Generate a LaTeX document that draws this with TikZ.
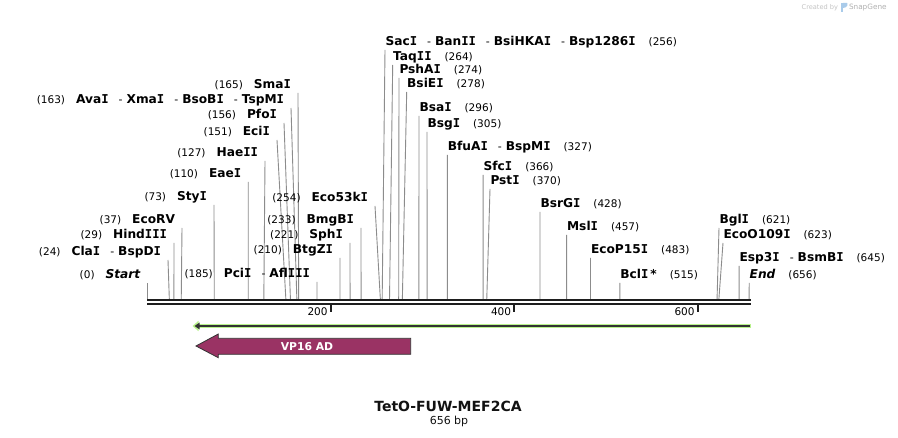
\documentclass[tikz,border=0pt]{standalone}
\usepackage{fontspec}
\setmainfont{DejaVu Sans}
\newfontfamily\monofam{DejaVu Sans Mono}
\usetikzlibrary{arrows.meta}
\definecolor{sitegray}{HTML}{8C8C8C}
\definecolor{seqblack}{HTML}{1E1E1E}
\definecolor{halo}{HTML}{B9F28C}
\definecolor{featdark}{HTML}{333333}
\definecolor{vpfill}{HTML}{9A3364}
\definecolor{credgray}{HTML}{C4C4C4}
\definecolor{logoblue}{HTML}{A9CBEA}
\newcommand\I{{\monofam I}}
\newcommand\nm[1]{{\fontsize{12.2}{14}\selectfont\bfseries #1}}
\newcommand\nb[1]{{\fontsize{10.5}{12}\selectfont #1}}
\newcommand\dsh{\hspace{10pt}{\mdseries\fontsize{11}{12}\selectfont -}\hspace{4pt}}
\newcommand\gapL{\hspace{11pt}}
\newcommand\gapR{\hspace{13pt}}
\tikzset{
  site/.style={draw=sitegray, line width=0.9pt},
  lbl/.style={inner sep=0pt, outer sep=0pt, text=black},
  seqline/.style={draw=seqblack, line width=2.2pt},
  tickmark/.style={draw=seqblack, line width=1.8pt},
  ticklbl/.style={inner sep=0pt, font=\fontsize{10.5}{12}\selectfont, text=black},
}
\begin{document}
\begin{tikzpicture}[x=1pt,y=-1pt]
\useasboundingbox[fill=white] (0,0) rectangle (898,438);

% credit
\node[lbl, anchor=east, text=credgray, font=\fontsize{6.6}{8}\selectfont] (cred) at (838,7.5) {Created by};
\fill[logoblue] (840.5,3) rectangle (843,12);
\fill[logoblue] (843,3) -- (847,3) .. controls (848,3) and (848,8) .. (843,8) -- cycle;
\node[lbl, anchor=west, text=credgray!90!black, font=\fontsize{7.3}{8}\selectfont] (sg) at (849,7.5) {SnapGene};

% left-side sites
\foreach \i/\bp/\tx/\ty/\txt in {
  st/0/147.3/283/{\nb{(0)}\gapL\nm{\itshape Start}},
  cla/24/168/260/{\nb{(24)}\gapL\nm{Cla\I\dsh BspD\I}},
  hin/29/174/243/{\nb{(29)}\gapL\nm{Hind\I\I\I}},
  ecv/37/182/228/{\nb{(37)}\gapL\nm{EcoRV}},
  sty/73/214/205/{\nb{(73)}\gapL\nm{Sty\I}},
  eae/110/248.2/182/{\nb{(110)}\gapL\nm{Eae\I}},
  hae/127/265/161/{\nb{(127)}\gapL\nm{Hae\I\I}},
  eci/151/277/140/{\nb{(151)}\gapL\nm{Eci\I}},
  pfo/156/284/123/{\nb{(156)}\gapL\nm{Pfo\I}},
  ava/163/291/108/{\nb{(163)}\gapL\nm{Ava\I\dsh Xma\I\dsh BsoB\I\dsh TspM\I}},
  sma/165/298/93/{\nb{(165)}\gapL\nm{Sma\I}},
  pci/185/317/282/{\nb{(185)}\gapL\nm{Pci\I\dsh Afl\I\I\I}},
  btg/210/340/258/{\nb{(210)}\gapL\nm{BtgZ\I}},
  sph/221/350/243/{\nb{(221)}\gapL\nm{Sph\I}},
  bmg/233/361/228/{\nb{(233)}\gapL\nm{BmgB\I}},
  ecs/254/375/206/{\nb{(254)}\gapL\nm{Eco53k\I}}}
{
  \coordinate (b\i) at ({147.3+0.9175*\bp},299);
  \coordinate (t\i) at (\tx,\ty);
  \draw[site] (b\i) -- (t\i);
  \node[lbl, anchor=base east] (l\i) at ([xshift=-7pt,yshift=4pt]t\i) {\txt};
}

% right-side sites
\foreach \i/\bp/\tx/\ty/\txt in {
  sac/256/385/50/{\nm{Sac\I\dsh Ban\I\I\dsh BsiHKA\I\dsh Bsp1286\I}\gapR\nb{(256)}},
  taq/264/392.7/65/{\nm{Taq\I\I}\gapR\nb{(264)}},
  psh/274/399/78/{\nm{PshA\I}\gapR\nb{(274)}},
  bsi/278/406.7/92/{\nm{BsiE\I}\gapR\nb{(278)}},
  bsa/296/419/116/{\nm{Bsa\I}\gapR\nb{(296)}},
  bsg/305/427/132/{\nm{Bsg\I}\gapR\nb{(305)}},
  bfu/327/447.3/155/{\nm{BfuA\I\dsh BspM\I}\gapR\nb{(327)}},
  sfc/366/483.1/175/{\nm{Sfc\I}\gapR\nb{(366)}},
  pst/370/490/189/{\nm{Pst\I}\gapR\nb{(370)}},
  bsr/428/540/212/{\nm{BsrG\I}\gapR\nb{(428)}},
  msl/457/566.6/235/{\nm{Msl\I}\gapR\nb{(457)}},
  ecp/483/590.5/258/{\nm{EcoP15\I}\gapR\nb{(483)}},
  bcl/515/619.8/283/{\nm{Bcl\I\,*}\gapR\nb{(515)}},
  bgl/621/719/228/{\nm{Bgl\I}\gapR\nb{(621)}},
  eco/623/723/243/{\nm{EcoO109\I}\gapR\nb{(623)}},
  esp/645/739.1/266/{\nm{Esp3\I\dsh BsmB\I}\gapR\nb{(645)}},
  end/656/749.2/283/{\nm{\itshape End}\gapR\nb{(656)}}}
{
  \coordinate (b\i) at ({147.3+0.9175*\bp},299);
  \coordinate (t\i) at (\tx,\ty);
  \draw[site] (b\i) -- (t\i);
  \node[lbl, anchor=base west] (l\i) at ([xshift=0.5pt,yshift=4pt]t\i) {\txt};
}

% sequence
\coordinate (s1L) at (147,300); \coordinate (s1R) at (751,300);
\coordinate (s2L) at (147,304); \coordinate (s2R) at (751,304);
\draw[seqline] (s1L) -- (s1R);
\draw[seqline] (s2L) -- (s2R);

% ticks
\foreach \k/\v in {a/200,b/400,c/600}{
  \coordinate (tk\k) at ({147.3+0.9175*\v},305);
  \coordinate (tb\k) at ({147.3+0.9175*\v},312);
  \draw[tickmark] (tk\k) -- (tb\k);
  \node[ticklbl, anchor=base east] (tl\k) at ([xshift=-3pt,yshift=-3.5pt]tb\k) {\v};
}

% feature line (green)
\coordinate (gR) at (751,326);
\coordinate (gL) at (192.5,326);
\coordinate (gL2) at (194.5,326);
\draw[draw=halo, line width=4.6pt, -{Triangle[length=6pt,width=10pt]}] (gR) -- (gL);
\draw[draw=featdark, line width=1.8pt, -{Triangle[length=5pt,width=6.5pt]}] ([xshift=-1pt]gR) -- (gL2);

% VP16 AD arrow
\draw[fill=vpfill, draw=featdark, line width=0.8pt]
  (410.7,338.3) -- (218.3,338.3) -- (218.3,334) -- (196,346) -- (218.3,357.7)
  -- (218.3,354.3) -- (410.7,354.3) -- cycle;
\node[lbl, text=white, font=\fontsize{10.8}{13}\selectfont\bfseries] (vp) at (307,346.5) {VP16 AD};

% title
\node[lbl, font=\fontsize{14}{16}\selectfont\bfseries, text=black!93] (title) at (448,406.7) {TetO-FUW-MEF2CA};
\node[lbl, font=\fontsize{11}{13}\selectfont, text=black!93] (size) at (449,421) {656 bp};
\end{tikzpicture}
\end{document}
